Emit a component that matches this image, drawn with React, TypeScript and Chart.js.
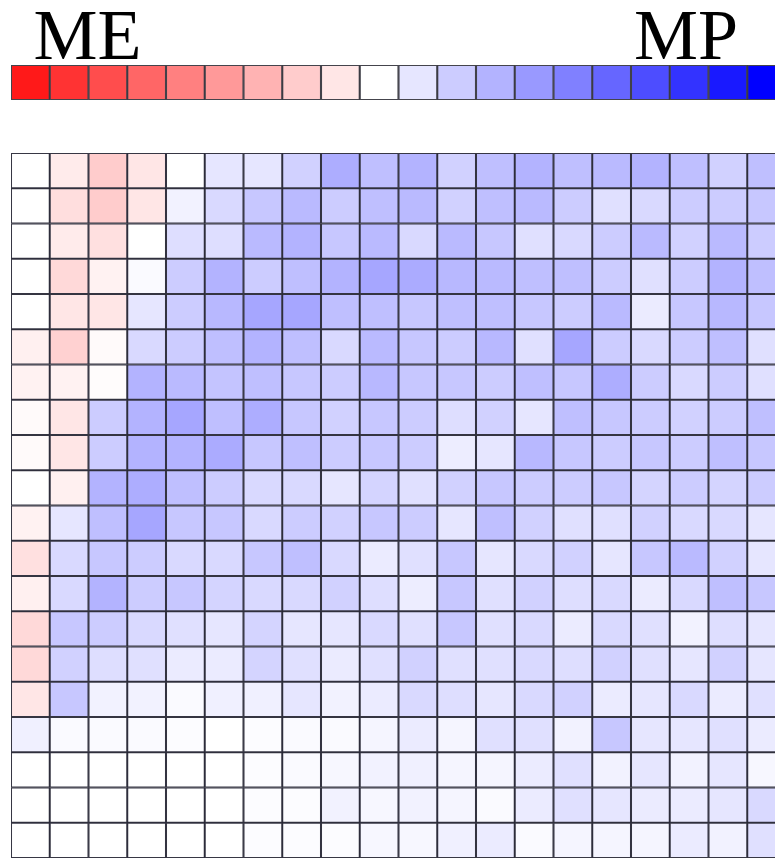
import React, { useEffect, useRef } from "react";
import { Chart, registerables } from "chart.js";

Chart.register(...registerables);

// Column categories (20 columns, last one partly outside the picture)
const columns = ["1","2","3","4","5","6","7","8","9","10","11","12","13","14","15","16","17","18","19","20"];

// Colour-bar scale values (ME negative = red, MP positive = blue)
const scaleValues = [-0.9,-0.8,-0.7,-0.6,-0.5,-0.4,-0.3,-0.2,-0.1,0,0.1,0.2,0.3,0.4,0.5,0.6,0.7,0.8,0.9,1.0];
const leftLabel = "ME";
const rightLabel = "MP";

// Heatmap rows, top to bottom
const row01 = [0, -0.08, -0.2, -0.1, 0, 0.1, 0.1, 0.18, 0.32, 0.25, 0.3, 0.18, 0.25, 0.3, 0.25, 0.27, 0.3, 0.25, 0.18, 0.25];
const row02 = [0, -0.13, -0.2, -0.1, 0.05, 0.15, 0.22, 0.27, 0.2, 0.25, 0.27, 0.18, 0.25, 0.27, 0.2, 0.12, 0.15, 0.2, 0.2, 0.22];
const row03 = [0, -0.08, -0.12, 0, 0.13, 0.13, 0.27, 0.3, 0.22, 0.27, 0.15, 0.27, 0.22, 0.12, 0.15, 0.2, 0.27, 0.18, 0.27, 0.2];
const row04 = [0, -0.15, -0.05, 0.02, 0.2, 0.3, 0.2, 0.25, 0.3, 0.35, 0.33, 0.28, 0.27, 0.25, 0.25, 0.2, 0.12, 0.2, 0.3, 0.25];
const row05 = [0, -0.1, -0.1, 0.1, 0.2, 0.28, 0.35, 0.35, 0.25, 0.25, 0.22, 0.25, 0.25, 0.22, 0.2, 0.27, 0.08, 0.22, 0.28, 0.22];
const row06 = [-0.06, -0.18, -0.02, 0.15, 0.2, 0.25, 0.3, 0.25, 0.15, 0.27, 0.22, 0.2, 0.28, 0.12, 0.35, 0.2, 0.15, 0.2, 0.25, 0.12];
const row07 = [-0.05, -0.05, -0.01, 0.3, 0.27, 0.23, 0.25, 0.22, 0.2, 0.28, 0.22, 0.22, 0.2, 0.25, 0.22, 0.32, 0.2, 0.15, 0.2, 0.12];
const row08 = [-0.02, -0.1, 0.2, 0.3, 0.35, 0.25, 0.32, 0.22, 0.18, 0.22, 0.2, 0.13, 0.18, 0.1, 0.25, 0.22, 0.2, 0.18, 0.2, 0.25];
const row09 = [-0.02, -0.1, 0.2, 0.3, 0.3, 0.33, 0.22, 0.25, 0.2, 0.22, 0.2, 0.07, 0.1, 0.28, 0.22, 0.2, 0.22, 0.2, 0.25, 0.22];
const row10 = [0, -0.06, 0.3, 0.32, 0.25, 0.2, 0.15, 0.15, 0.1, 0.17, 0.12, 0.18, 0.22, 0.2, 0.2, 0.22, 0.17, 0.2, 0.17, 0.2];
const row11 = [-0.05, 0.1, 0.25, 0.35, 0.22, 0.22, 0.15, 0.2, 0.18, 0.22, 0.2, 0.1, 0.25, 0.18, 0.12, 0.12, 0.18, 0.15, 0.15, 0.1];
const row12 = [-0.12, 0.15, 0.22, 0.2, 0.15, 0.15, 0.22, 0.25, 0.15, 0.08, 0.12, 0.22, 0.1, 0.15, 0.18, 0.1, 0.22, 0.27, 0.18, 0.1];
const row13 = [-0.06, 0.15, 0.3, 0.2, 0.22, 0.17, 0.15, 0.15, 0.18, 0.13, 0.07, 0.22, 0.12, 0.18, 0.13, 0.15, 0.08, 0.15, 0.25, 0.22];
const row14 = [-0.15, 0.22, 0.2, 0.15, 0.12, 0.1, 0.17, 0.1, 0.1, 0.15, 0.12, 0.22, 0.12, 0.15, 0.08, 0.15, 0.12, 0.05, 0.13, 0.1];
const row15 = [-0.15, 0.18, 0.13, 0.12, 0.08, 0.08, 0.17, 0.12, 0.08, 0.12, 0.18, 0.12, 0.12, 0.15, 0.13, 0.18, 0.12, 0.1, 0.18, 0.1];
const row16 = [-0.1, 0.22, 0.05, 0.05, 0.02, 0.06, 0.06, 0.1, 0.05, 0.08, 0.15, 0.13, 0.1, 0.15, 0.18, 0.08, 0.1, 0.15, 0.08, 0.12];
const row17 = [0.06, 0.02, 0.02, 0.02, 0.01, 0, 0.01, 0.02, 0.02, 0.04, 0.08, 0.04, 0.12, 0.12, 0.05, 0.22, 0.1, 0.1, 0.12, 0.08];
const row18 = [0, 0, 0, 0, 0, 0, 0.01, 0.02, 0.03, 0.05, 0.06, 0.04, 0.04, 0.08, 0.12, 0.05, 0.1, 0.05, 0.1, 0.03];
const row19 = [0, 0, 0, 0, 0, 0, 0.01, 0.01, 0.05, 0.03, 0.05, 0.04, 0.02, 0.08, 0.12, 0.1, 0.08, 0.08, 0.1, 0.15];
const row20 = [0, 0, 0, 0, 0, 0, 0.01, 0.01, 0.01, 0.03, 0.03, 0.06, 0.08, 0.02, 0.04, 0.04, 0.04, 0.08, 0.05, 0.12];

const heatRows = [row01,row02,row03,row04,row05,row06,row07,row08,row09,row10,row11,row12,row13,row14,row15,row16,row17,row18,row19,row20];

function colorFor(v: number): string {
  if (v < 0) {
    const c = Math.round(255 * (1 + v));
    return `rgb(255,${c},${c})`;
  }
  const c = Math.round(255 * (1 - v));
  return `rgb(${c},${c},255)`;
}

const GRID = "rgba(20,20,35,0.85)";

const labelPlugin = {
  id: "endLabels",
  afterDraw(chart: any) {
    const { ctx, chartArea } = chart;
    const w = chartArea.right - chartArea.left;
    ctx.save();
    ctx.fillStyle = "#000";
    ctx.font = '72px "Liberation Serif", "DejaVu Serif", serif';
    ctx.textAlign = "center";
    ctx.textBaseline = "alphabetic";
    ctx.fillText(leftLabel, chartArea.left + w * (2 / 20) - 1, 59);
    ctx.fillText(rightLabel, chartArea.left + w * (17.5 / 20) - 3, 59);
    ctx.restore();
  },
};

export default function App() {
  const barRef = useRef<HTMLCanvasElement>(null);
  const heatRef = useRef<HTMLCanvasElement>(null);

  useEffect(() => {
    const bar = new Chart(barRef.current!, {
      type: "bar",
      data: {
        labels: columns,
        datasets: [
          {
            data: scaleValues.map(() => 1),
            backgroundColor: scaleValues.map(colorFor),
            borderColor: "rgba(35,35,45,0.85)",
            borderWidth: 1.4,
            borderSkipped: false,
            categoryPercentage: 1,
            barPercentage: 1,
          },
        ],
      },
      options: {
        animation: false,
        responsive: false,
        maintainAspectRatio: false,
        layout: { padding: { left: 11, right: 4, top: 65, bottom: 10 } },
        plugins: { legend: { display: false }, tooltip: { enabled: false } },
        scales: {
          x: { display: false },
          y: { display: false, min: 0, max: 1 },
        },
      },
      plugins: [labelPlugin],
    });

    const heat = new Chart(heatRef.current!, {
      type: "bar",
      data: {
        labels: columns,
        datasets: heatRows.map((row, i) => ({
          label: `row ${i + 1}`,
          data: row.map(() => 1),
          backgroundColor: row.map(colorFor),
          borderColor: GRID,
          borderWidth: 1.35,
          borderSkipped: false,
          categoryPercentage: 1,
          barPercentage: 1,
          stack: "s",
        })),
      },
      options: {
        animation: false,
        responsive: false,
        maintainAspectRatio: false,
        layout: { padding: { left: 11, right: 4, top: 13, bottom: 3 } },
        plugins: { legend: { display: false }, tooltip: { enabled: false } },
        scales: {
          x: { display: false, stacked: true },
          y: { display: false, stacked: true, min: 0, max: 20, reverse: true },
        },
      },
    });

    return () => {
      bar.destroy();
      heat.destroy();
    };
  }, []);

  return (
    <div
      style={{
        position: "fixed",
        left: 0,
        top: 0,
        width: 775,
        height: 861,
        overflow: "hidden",
        background: "#fff",
      }}
    >
      <canvas
        ref={barRef}
        width={790}
        height={110}
        style={{ position: "absolute", left: 0, top: 0, width: 790, height: 110 }}
      />
      <canvas
        ref={heatRef}
        width={790}
        height={721}
        style={{ position: "absolute", left: 0, top: 140, width: 790, height: 721 }}
      />
    </div>
  );
}
